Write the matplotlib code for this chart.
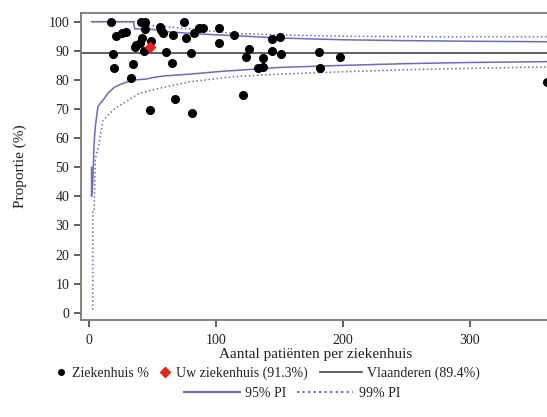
import matplotlib
matplotlib.use('agg')
import matplotlib.pyplot as plt
from matplotlib.lines import Line2D

plt.rcParams['font.family'] = ['Liberation Serif', 'DejaVu Serif']

# hospitals: number of patients and proportion (%)
n_hosp = [17, 19, 20, 21, 26, 29, 33, 35, 36, 37, 40, 41, 44, 42, 43, 44, 48, 49, 56, 57,
          58, 61, 65, 66, 68, 75, 76, 80, 81, 83, 87, 90, 102, 102, 114, 121, 124, 126,
          133, 137, 137, 144, 144, 150, 151, 181, 182, 198, 361]
pct_hosp = [100, 88.8, 84.2, 95.1, 96.2, 96.6, 80.5, 85.5, 91.2, 92.0, 92.6, 100, 100, 94.5,
            89.9, 97.5, 69.7, 93.5, 98.3, 97.0, 96.2, 89.7, 85.7, 95.4, 73.3, 100, 94.3,
            89.3, 68.7, 96.2, 97.7, 97.7, 98.0, 92.8, 95.5, 74.8, 88.0, 90.8, 84.2, 84.5,
            87.6, 94.0, 89.9, 94.8, 88.8, 89.7, 84.0, 87.8, 79.2]
own_n = [48]
own_pct = [91.3]
flanders = 89.4

# prediction limits
n_pi = [2, 2, 3, 4, 5, 7, 9, 11, 15, 20, 25, 30, 35, 36, 45, 50, 56, 60, 80, 100,
        120, 150, 200, 250, 300, 365]
lo95 = [50, 40, 45, 58, 64, 70.8, 72, 73, 75.5, 77.5, 78.5, 79.3, 79.8, 80.0, 80.3, 80.8,
        81.2, 81.4, 82.0, 82.8, 83.4, 84.3, 85.0, 85.6, 86.0, 86.3]
up95 = [100, 100, 100, 100, 100, 100, 100, 100, 100, 100, 100, 100, 100, 97.5, 97.5, 97.4,
        96.8, 96.6, 96.0, 95.5, 95.1, 94.4, 93.8, 93.5, 93.3, 93.1]
n_pi99 = [3, 3, 4, 5, 7, 11, 19, 27, 40, 45, 56, 80, 113, 150, 200, 250, 300, 365]
lo99 = [1, 35, 35, 53, 56, 66, 69.7, 72, 75.5, 76, 77.2, 79.4, 81.1, 82.0, 82.8, 83.5,
        84.0, 84.5]
up99 = [100, 100, 100, 100, 100, 100, 100, 100, 100, 98.8, 98.5, 97.5, 96.0, 95.5, 95.0,
        94.9, 94.8, 94.8]

blue = '#6a6ac6'
grey = '#7a7a7a'
txt = '#222222'

fig = plt.figure(figsize=(5.47, 4.17), dpi=100)
ax = fig.add_axes([81 / 547, 97 / 417, 516 / 547, 307 / 417])

ax.plot(n_pi, lo95, color=blue, lw=1.1)
ax.plot(n_pi, up95, color=blue, lw=1.1)
ax.plot(n_pi99, lo99, color=blue, lw=1.1, ls=':')
ax.plot(n_pi99, up99, color=blue, lw=1.1, ls=':')
ax.axhline(flanders, color='#444444', lw=1.2)
ax.plot(n_hosp, pct_hosp, 'o', color='black', ms=5.5, clip_on=False)
ax.plot(own_n, own_pct, 'D', color='#e8231b', ms=5.5)

ax.set_xlim(-6.3, 400)
ax.set_ylim(-2.5, 103)
ax.set_xticks([0, 100, 200, 300])
ax.set_yticks(range(0, 101, 10))
for s in ax.spines.values():
    s.set_color(grey)
    s.set_linewidth(1.3)
ax.tick_params(direction='out', length=5, width=1.2, color='#444444',
               labelsize=10, labelcolor=txt)
ax.tick_params(axis='x', pad=5)
ax.set_xlabel('Aantal patiënten per ziekenhuis', fontsize=11, color=txt)
ax.set_ylabel('Proportie (%)', fontsize=11, color=txt)
ax.xaxis.set_label_coords(0.455, -0.09)
ax.yaxis.set_label_coords(-0.105, 0.5)

leg_kw = dict(frameon=False, fontsize=10, handletextpad=0.4, labelcolor=txt,
              borderpad=0, borderaxespad=0)
pts = [Line2D([], [], ls='', marker='o', color='black', ms=4),
       Line2D([], [], ls='', marker='D', color='#e8231b', ms=5)]
fig.legend(pts, ['Ziekenhuis %', 'Uw ziekenhuis (91.3%)'], loc='center left',
           bbox_to_anchor=(55 / 547, 0.105), ncol=2, handlelength=0.8,
           columnspacing=0.8, **leg_kw)
fig.legend([Line2D([], [], color='#444444', lw=1.2)], ['Vlaanderen (89.4%)'],
           loc='center left', bbox_to_anchor=(320 / 547, 0.105), handlelength=3, **leg_kw)
pis = [Line2D([], [], color=blue, lw=1.5),
       Line2D([], [], color=blue, lw=1.5, ls=':')]
fig.legend(pis, ['95% PI', '99% PI'], loc='center left',
           bbox_to_anchor=(184 / 547, 0.057), ncol=2, handlelength=4,
           columnspacing=0.8, **leg_kw)

fig.savefig('out.png', dpi=100)
